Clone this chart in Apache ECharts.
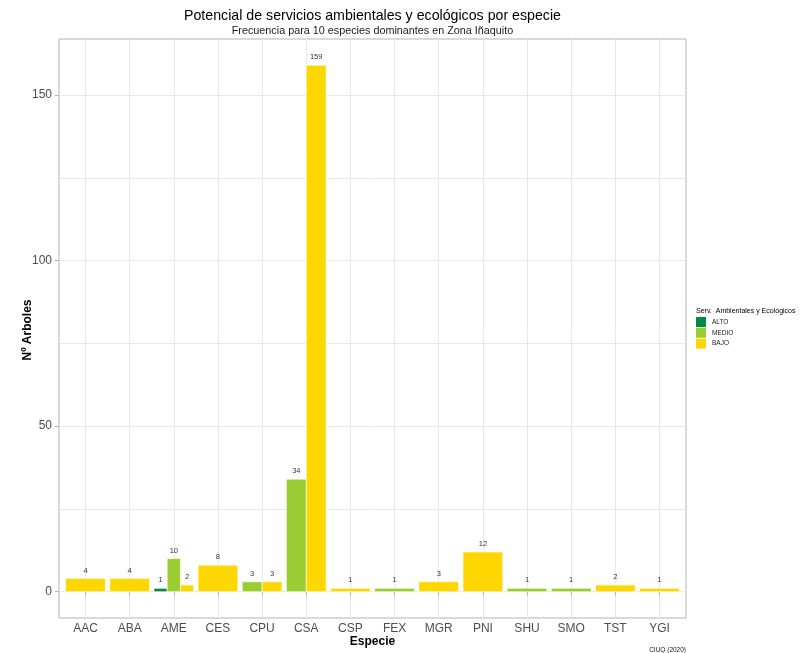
<!DOCTYPE html>
<html>
<head>
<meta charset="utf-8">
<script src="https://cdn.jsdelivr.net/npm/echarts@6/dist/echarts.min.js"></script>
<style>html,body{margin:0;padding:0;background:#fff}#c{width:807px;height:653px}</style>
</head>
<body>
<div id="c"></div>
<script>
const categories = ['AAC','ABA','AME','CES','CPU','CSA','CSP','FEX','MGR','PNI','SHU','SMO','TST','YGI'];
const levels = ['ALTO','MEDIO','BAJO'];
const alto  = [null,null,1,null,null,null,null,null,null,null,null,null,null,null];
const medio = [null,null,10,null,3,34,null,1,null,null,1,1,null,null];
const bajo  = [4,4,2,8,3,159,1,null,3,12,null,null,2,1];
const yTicks = [0,50,100,150];
const yGrid = [0,25,50,75,100,125,150];
const colors = ['#008B45','#9ACD32','#FFD700'];

const seriesVals = [alto, medio, bajo];
const FONT = '"Liberation Sans", Arial, sans-serif';

function buildData(li){
  const out = [];
  categories.forEach((c,i)=>{
    const present = [];
    seriesVals.forEach((arr,k)=>{ if(arr[i]!==null) present.push(k); });
    const v = seriesVals[li][i];
    if(v!==null){
      out.push([i+1, v, present.indexOf(li), present.length]);
    }
  });
  return out;
}

function renderItem(params, api){
  const x = api.value(0), v = api.value(1), slot = api.value(2), n = api.value(3);
  const w = 0.9/n;
  const x0 = x - 0.45 + slot*w;
  const p0 = api.coord([x0, v]);
  const p1 = api.coord([x0 + w, 0]);
  const color = api.visual('color');
  return {
    type:'group',
    children:[
      {type:'rect', shape:{x:p0[0], y:p0[1], width:p1[0]-p0[0], height:p1[1]-p0[1]},
       style:{fill:color, stroke:'#ffffff', lineWidth:0.6}},
      {type:'text', x:(p0[0]+p1[0])/2, y:p0[1]-8,
       style:{text:String(v), fill:'#333333', font:'7.5px '+FONT, textAlign:'center', textVerticalAlign:'middle'}}
    ]
  };
}

const chart = echarts.init(document.getElementById('c'), null, {renderer:'canvas'});
const option = {
  backgroundColor:'#ffffff',
  animation:false,
  grid:{left:59, right:121, top:39, bottom:35, show:true, borderColor:'#b3b3b3', borderWidth:1, backgroundColor:'transparent'},
  xAxis:{
    type:'value', min:0.4, max:14.6,
    axisLine:{show:false},
    axisTick:{show:true, customValues:categories.map((c,i)=>i+1), length:4, lineStyle:{color:'#b3b3b3'}},
    axisLabel:{customValues:categories.map((c,i)=>i+1), formatter:v=>categories[Math.round(v)-1]||'', color:'#4d4d4d', fontSize:12, fontFamily:FONT, margin:5},
    splitLine:{show:true, lineStyle:{color:'#e8e8e8', width:1}}
  },
  yAxis:[{
    type:'value', min:-7.95, max:166.95,
    axisLine:{show:false},
    axisTick:{show:false, customValues:yGrid},
    axisLabel:{customValues:yTicks, color:'#4d4d4d', fontSize:12, fontFamily:FONT, margin:7},
    splitLine:{show:true, lineStyle:{color:'#e8e8e8', width:1}}
  },{
    type:'value', min:-7.95, max:166.95, position:'left',
    axisLine:{show:false},
    axisTick:{show:true, customValues:yTicks, length:4, lineStyle:{color:'#b3b3b3'}},
    axisLabel:{show:false},
    splitLine:{show:false}
  }],
  legend:{
    orient:'vertical', left:696, top:317, padding:0, itemWidth:10, itemHeight:10, itemGap:0.8,
    icon:'rect', data:levels,
    textStyle:{fontSize:6.5, color:'#1a1a1a', fontFamily:FONT, padding:[0,0,0,1]}
  },
  series: levels.map((name,li)=>({
    name, type:'custom', renderItem, itemStyle:{color:colors[li]},
    encode:{x:0, y:1}, data:buildData(li), clip:false
  })),
  graphic:[
    {type:'text', x:372.5, y:16, style:{text:'Potencial de servicios ambientales y ecológicos por especie', font:'14.2px '+FONT, fill:'#000', textAlign:'center', textVerticalAlign:'middle'}},
    {type:'text', x:372.5, y:31, style:{text:'Frecuencia para 10 especies dominantes en Zona Iñaquito', font:'10.8px '+FONT, fill:'#1a1a1a', textAlign:'center', textVerticalAlign:'middle'}},
    {type:'text', x:372.5, y:642, style:{text:'Especie', font:'bold 12px '+FONT, fill:'#000', textAlign:'center', textVerticalAlign:'middle'}},
    {type:'text', x:28, y:330, rotation:Math.PI/2, style:{text:'Nº Arboles', font:'bold 12px '+FONT, fill:'#000', textAlign:'center', textVerticalAlign:'middle'}},
    {type:'text', x:696, y:311, style:{text:'Serv.  Ambientales y Ecológicos', font:'7px '+FONT, fill:'#000', textAlign:'left', textVerticalAlign:'middle'}},
    {type:'text', x:686, y:650, style:{text:'CIUQ (2020)', font:'6.5px '+FONT, fill:'#1a1a1a', textAlign:'right', textVerticalAlign:'middle'}}
  ]
};
chart.setOption(option);
</script>
</body>
</html>
